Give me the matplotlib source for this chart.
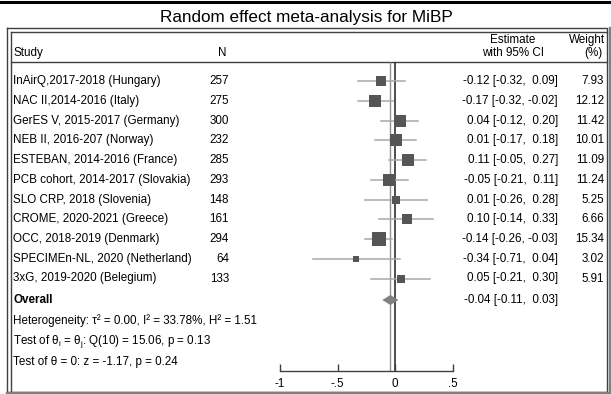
import matplotlib
matplotlib.use("Agg")
import matplotlib.pyplot as plt
from matplotlib.ticker import FixedLocator, FixedFormatter

plt.rcParams['font.family'] = ['Liberation Sans', 'DejaVu Sans']
plt.rcParams['mathtext.fontset'] = 'custom'
plt.rcParams['mathtext.rm'] = 'Liberation Sans'
plt.rcParams['mathtext.it'] = 'Liberation Sans'

title = "Random effect meta-analysis for MiBP"
studies = ["InAirQ,2017-2018 (Hungary)", "NAC II,2014-2016 (Italy)",
           "GerES V, 2015-2017 (Germany)", "NEB II, 2016-207 (Norway)",
           "ESTEBAN, 2014-2016 (France)", "PCB cohort, 2014-2017 (Slovakia)",
           "SLO CRP, 2018 (Slovenia)", "CROME, 2020-2021 (Greece)",
           "OCC, 2018-2019 (Denmark)", "SPECIMEn-NL, 2020 (Netherland)",
           "3xG, 2019-2020 (Belegium)"]
n_values = [257, 275, 300, 232, 285, 293, 148, 161, 294, 64, 133]
estimates = [-0.12, -0.17, 0.04, 0.01, 0.11, -0.05, 0.01, 0.10, -0.14, -0.34, 0.05]
ci_low = [-0.32, -0.32, -0.12, -0.17, -0.05, -0.21, -0.26, -0.14, -0.26, -0.71, -0.21]
ci_high = [0.09, -0.02, 0.20, 0.18, 0.27, 0.11, 0.28, 0.33, -0.03, 0.04, 0.30]
weights = [7.93, 12.12, 11.42, 10.01, 11.09, 11.24, 5.25, 6.66, 15.34, 3.02, 5.91]
overall = (-0.04, -0.11, 0.03)
tick_values = [-1, -0.5, 0, 0.5]
tick_labels = ["-1", "-.5", "0", ".5"]

W, H = 611, 394
fig = plt.figure(figsize=(W / 100, H / 100), dpi=100)

# background axes in pixel coordinates for text and frame
bg = fig.add_axes([0, 0, 1, 1])
bg.set_xlim(0, W)
bg.set_ylim(H, 0)
bg.axis('off')

# frame
bg.plot([0, W], [1.5, 1.5], color='black', lw=2.2)
bg.plot([7, 7, 607, 607, 7], [28, 392, 392, 28, 28], color='#404040', lw=1)
bg.plot([11, 11], [32, 392], color='#404040', lw=1)
bg.plot([11, 607], [32, 32], color='#404040', lw=1)
bg.plot([609.5, 609.5], [28, 393], color='#808080', lw=2.5)
bg.plot([7, 611], [392.5, 392.5], color='#808080', lw=2.5)
bg.plot([11, 607], [62, 62], color='#404040', lw=1)

fs = 8.4
bg.text(306, 17, title, ha='center', va='center', fontsize=12.3)
bg.text(13, 53, "Study", ha='left', va='center', fontsize=fs)
bg.text(222, 53, "N", ha='center', va='center', fontsize=fs)
bg.text(513, 40, "Estimate", ha='center', va='center', fontsize=fs)
bg.text(513, 53, "with 95% CI", ha='center', va='center', fontsize=fs)
bg.text(605, 40, "Weight", ha='right', va='center', fontsize=fs)
bg.text(593, 53, "(%)", ha='center', va='center', fontsize=fs)

row_y = [81 + 19.75 * i for i in range(len(studies))]
for y, s, n, e, lo, hi, w in zip(row_y, studies, n_values, estimates, ci_low, ci_high, weights):
    bg.text(13, y, s, ha='left', va='center', fontsize=fs)
    bg.text(229, y, str(n), ha='right', va='center', fontsize=fs)
    bg.text(558, y, f"{e:.2f} [{lo:.2f}, {hi:5.2f}]", ha='right', va='center', fontsize=fs)
    bg.text(604, y, f"{w:.2f}", ha='right', va='center', fontsize=fs)

oy = 300
bg.text(13, oy, "Overall", ha='left', va='center', fontsize=fs, fontweight='bold')
bg.text(558, oy, f"{overall[0]:.2f} [{overall[1]:.2f}, {overall[2]:5.2f}]",
        ha='right', va='center', fontsize=fs)
bg.text(13, 321, "Heterogeneity: \u03c4\u00b2 = 0.00, I\u00b2 = 33.78%, H\u00b2 = 1.51",
        ha='left', va='center', fontsize=fs)
bg.text(13, 342, r"Test of $\theta_i$ = $\theta_j$: Q(10) = 15.06, p = 0.13",
        ha='left', va='center', fontsize=fs)
bg.text(13, 362, "Test of \u03b8 = 0: z = -1.17, p = 0.24",
        ha='left', va='center', fontsize=fs)

# forest axes
x0, x1 = 280, 452.5
ytop, ybot = 62, 371
ax = fig.add_axes([x0 / W, (H - ybot) / H, (x1 - x0) / W, (ybot - ytop) / H])
ax.set_xlim(-1, 0.5)
ax.set_ylim(ybot, ytop)
ax.patch.set_alpha(0)
for sp in ['top', 'left', 'right']:
    ax.spines[sp].set_visible(False)
ax.spines['bottom'].set_color('#404040')
ax.spines['bottom'].set_linewidth(1)
ax.yaxis.set_visible(False)
ax.xaxis.set_major_locator(FixedLocator(tick_values))
ax.xaxis.set_major_formatter(FixedFormatter(tick_labels))
ax.tick_params(axis='x', direction='in', length=5, width=1, color='#404040',
               labelsize=fs, pad=5)

ax.vlines(overall[0], ytop, ybot, color='#909090', lw=1, zorder=1)
ax.vlines(0, ytop, ybot, color='#303030', lw=1.2, zorder=1)

for y, e, lo, hi, w in zip(row_y, estimates, ci_low, ci_high, weights):
    ax.plot([lo, hi], [y, y], color='#a8a8a8', lw=1.1, zorder=2)
    ax.scatter([e], [y], s=6.6 * w, marker='s', color='#555555', zorder=3, linewidths=0)

d_half = 5
ax.fill([overall[1], overall[0], overall[2], overall[0]],
        [oy, oy - d_half, oy, oy + d_half], color='#808080', zorder=4, lw=0)

fig.savefig("out.png", dpi=100)
